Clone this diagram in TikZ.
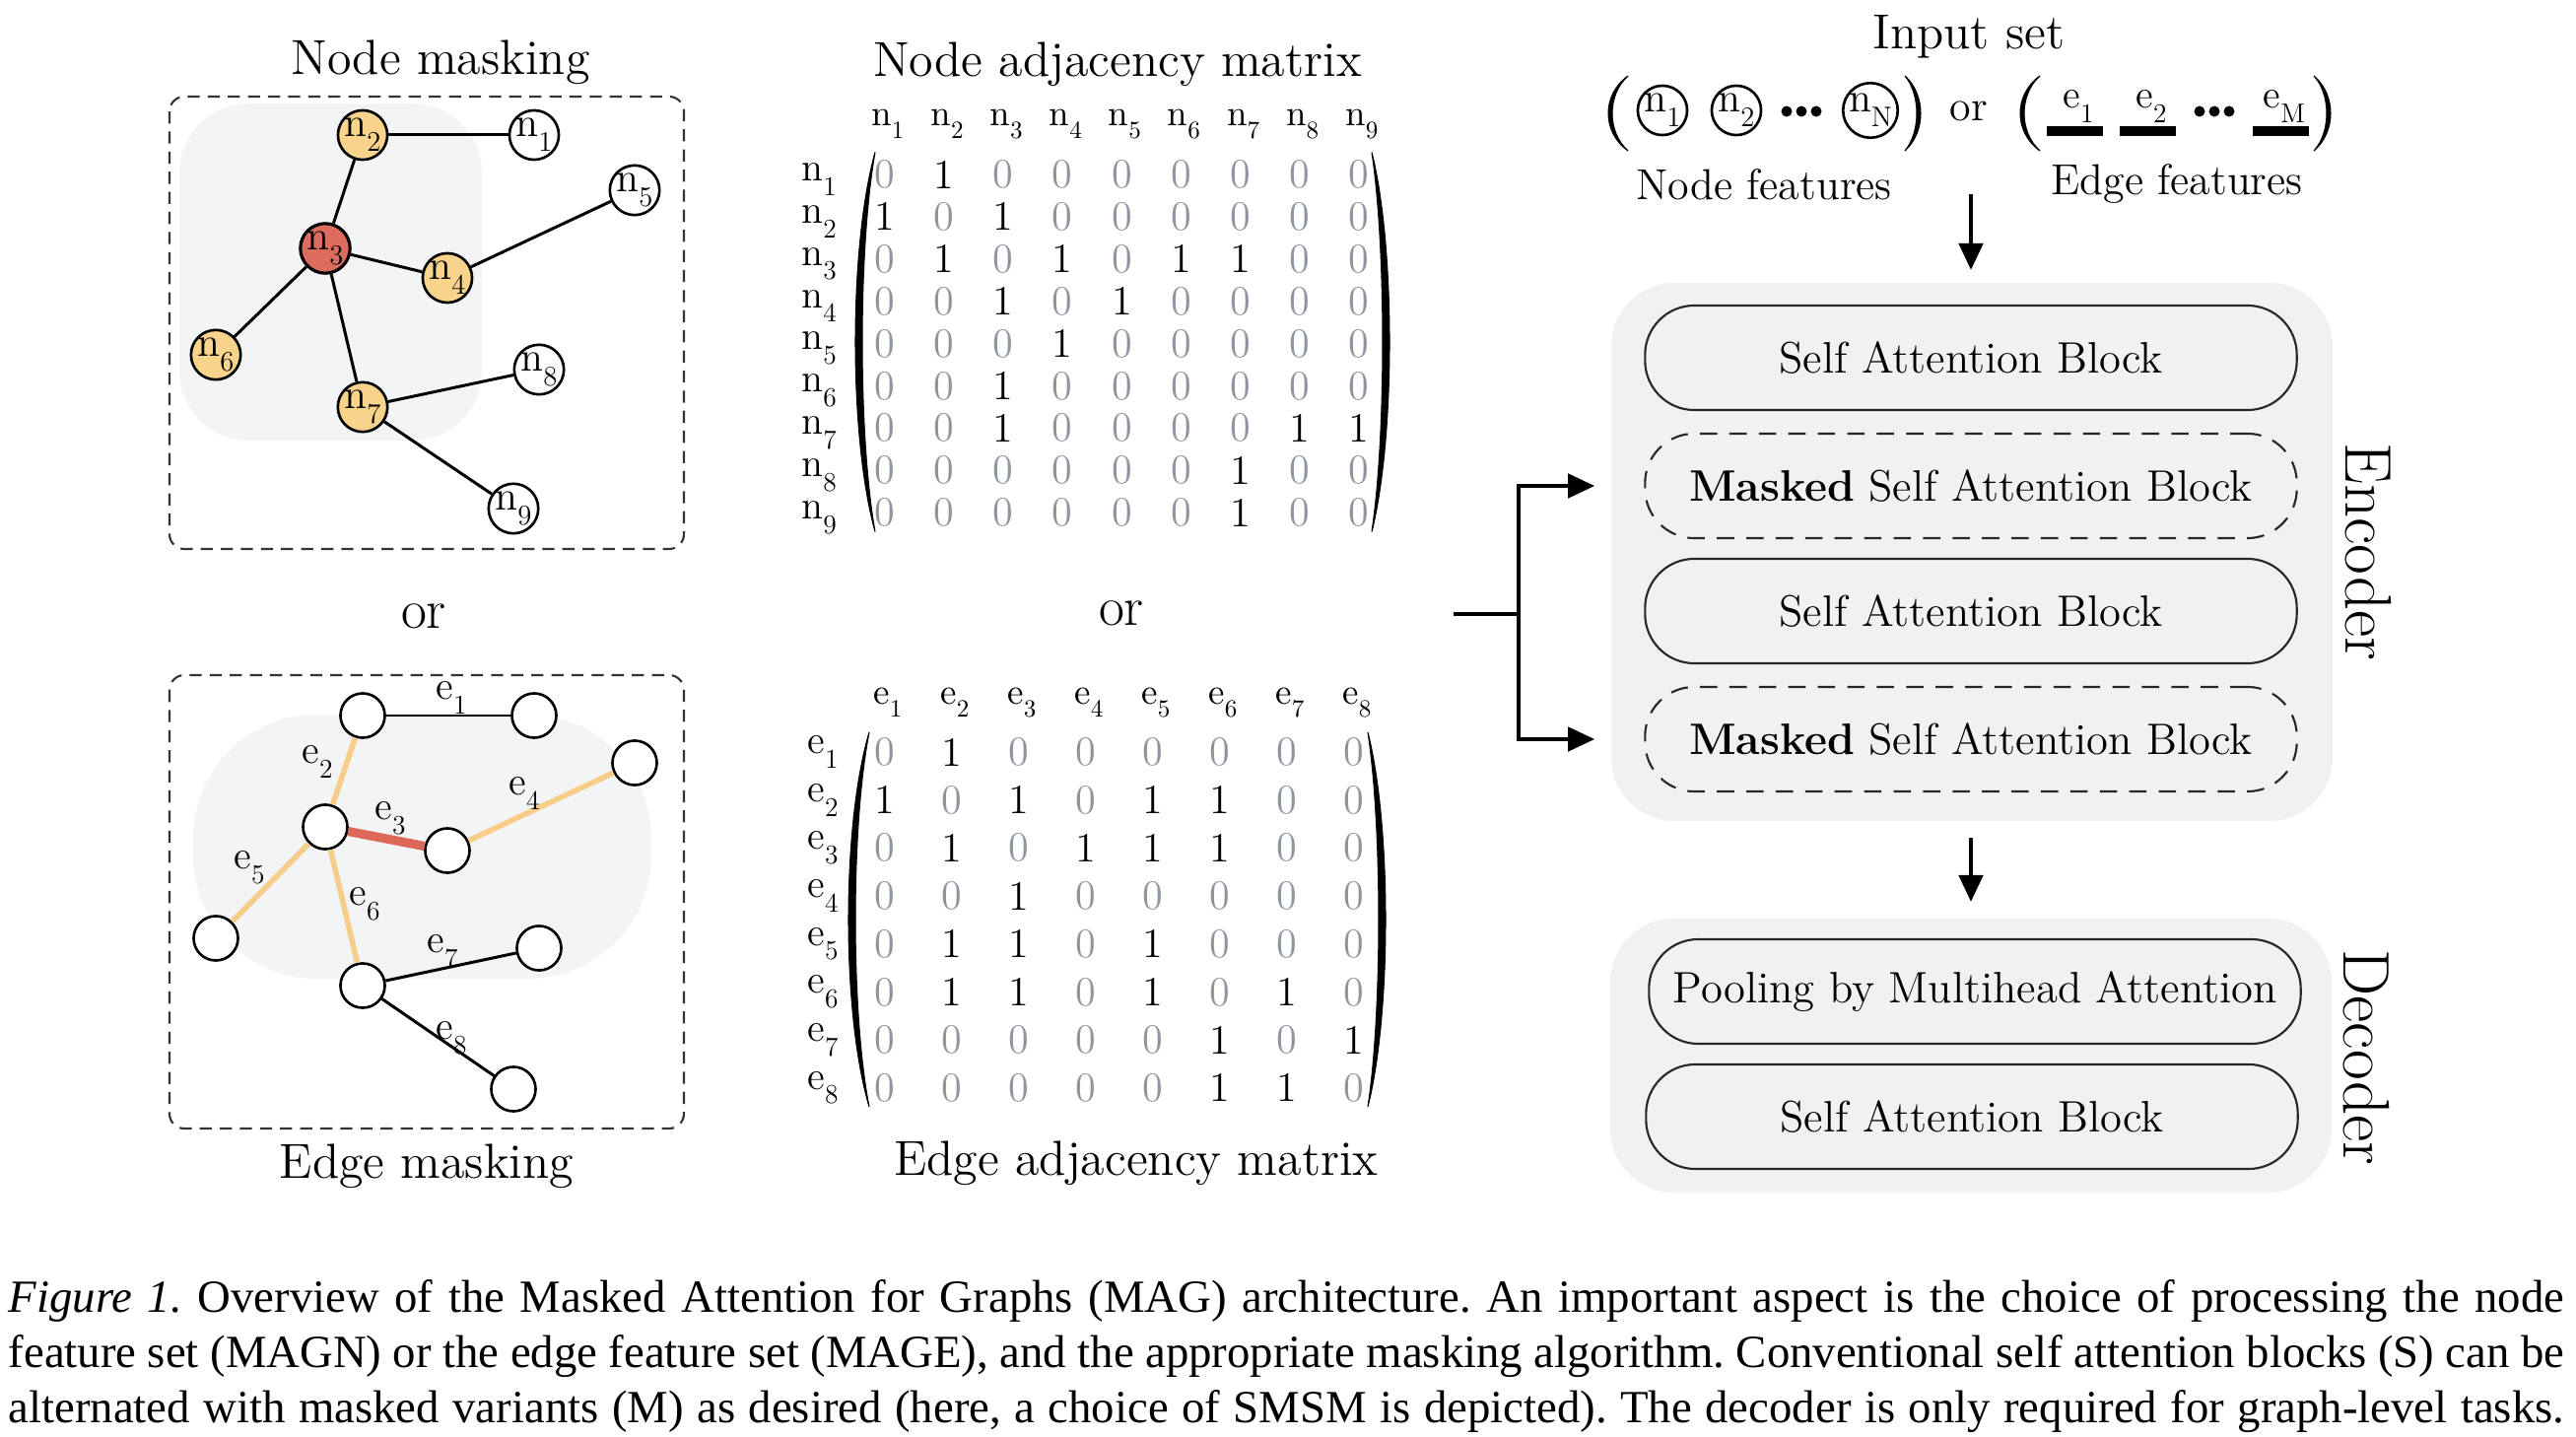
\documentclass[tikz,border=0pt]{standalone}
\usepackage{fontspec}
\usepackage{graphicx}
\newfontfamily\capfont{Liberation Serif}
\usetikzlibrary{arrows.meta}
\definecolor{bggray}{RGB}{243,244,246}
\definecolor{encgray}{RGB}{240,241,243}
\definecolor{nyellow}{RGB}{247,211,140}
\definecolor{nred}{RGB}{222,108,94}
\definecolor{eorange}{RGB}{246,206,138}
\definecolor{ered}{RGB}{221,104,90}
\definecolor{zgray}{RGB}{142,148,160}
\newcommand\myfs[1]{\fontsize{#1}{#1}\selectfont}
\newcommand\lab[2]{#1\raisebox{-0.36em}{\scalebox{0.68}{#2}}}
\tikzset{
  title/.style={font=\myfs{14.2}, inner sep=0pt},
  orlab/.style={font=\myfs{16}, inner sep=0pt},
  gnode/.style={circle, draw=black, line width=0.75pt, fill=white, minimum size=0.45cm, inner sep=0pt, font=\myfs{12}},
  ynode/.style={gnode, fill=nyellow},
  rnode/.style={gnode, fill=nred, line width=0.9pt},
  gedge/.style={line width=0.85pt},
  oedge/.style={line width=1.6pt, draw=eorange},
  redge/.style={line width=2.6pt, draw=ered},
  elabel/.style={font=\myfs{11.5}, inner sep=0pt},
  panel/.style={draw=black!80, dash pattern=on 3.5pt off 2.3pt, line width=0.6pt, rounded corners=0.15cm},
  mv0/.style={text=zgray, font=\myfs{12}, inner sep=0pt},
  mv1/.style={text=black, font=\myfs{12}, inner sep=0pt},
  hlab/.style={font=\myfs{10.5}, inner sep=0pt},
  rlab/.style={font=\myfs{11.5}, inner sep=0pt},
  block/.style={draw=black!85, line width=0.6pt, rounded corners=0.5cm, minimum width=6.61cm, minimum height=1.06cm, font=\myfs{12.7}, inner sep=0pt},
  mblock/.style={block, dash pattern=on 5pt off 3.5pt},
  bgbox/.style={fill=encgray, draw=none, rounded corners=0.65cm, minimum width=7.32cm, inner sep=0pt},
  arr/.style={line width=1.3pt, -{Triangle[length=0.27cm,width=0.24cm]}},
  ebar/.style={fill=black, minimum width=0.57cm, minimum height=0.1cm, inner sep=0pt},
  capline/.style={font=\capfont\myfs{13.3}\frenchspacing, inner sep=0pt, anchor=base west},
  pics/lpar/.style n args={3}{code={
    \filldraw[line width=0.3pt] (0,{-#1/2}) .. controls ({-1.333*#2},{-#1/4}) and ({-1.333*#2},{#1/4}) .. (0,{#1/2})
      .. controls ({-1.333*(#2-#3)},{#1/4}) and ({-1.333*(#2-#3)},{-#1/4}) .. cycle;
  }}
}
\begin{document}
\begin{tikzpicture}[x=0.01cm,y=-0.01cm]
\useasboundingbox (0,0) rectangle (2614,1458);

% ---------- Node masking ----------
\node[title] (tnm) at (447,63) {Node masking};
\fill[bggray, rounded corners=0.7cm] (182,105) rectangle (489,447);
\draw[panel] (172,98) rectangle (694,557);
\node[ynode] (n2) at (368,137) {\lab{n}{2}};
\node[gnode] (n1) at (542,137) {\lab{n}{1}};
\node[gnode] (n5) at (644,193) {\lab{n}{5}};
\node[rnode] (n3) at (330,252) {\lab{n}{3}};
\node[ynode] (n4) at (454,282) {\lab{n}{4}};
\node[ynode] (n6) at (219,360) {\lab{n}{6}};
\node[ynode] (n7) at (368,413) {\lab{n}{7}};
\node[gnode] (n8) at (547,375) {\lab{n}{8}};
\node[gnode] (n9) at (521,516) {\lab{n}{9}};
\draw[gedge] (n2) -- (n1);
\draw[gedge] (n2) -- (n3);
\draw[gedge] (n3) -- (n4);
\draw[gedge] (n4) -- (n5);
\draw[gedge] (n3) -- (n6);
\draw[gedge] (n3) -- (n7);
\draw[gedge] (n7) -- (n8);
\draw[gedge] (n7) -- (n9);

\node[orlab] (or1) at (430,625) {or};

% ---------- Edge masking ----------
\fill[bggray, rounded corners=1.25cm] (196,725) rectangle (661,993);
\draw[panel] (172,685) rectangle (694,1145);
\node[gnode] (m2) at (368,726) {};
\node[gnode] (m1) at (542,726) {};
\node[gnode] (m5) at (644,774) {};
\node[gnode] (m3) at (330,839) {};
\node[gnode] (m4) at (454,863) {};
\node[gnode] (m6) at (219,952) {};
\node[gnode] (m7) at (368,1000) {};
\node[gnode] (m8) at (547,962) {};
\node[gnode] (m9) at (521,1105) {};
\draw[gedge] (m2) -- (m1);
\draw[oedge] (m2) -- (m3);
\draw[redge] (m3) -- (m4);
\draw[oedge] (m4) -- (m5);
\draw[oedge] (m3) -- (m6);
\draw[oedge] (m3) -- (m7);
\draw[gedge] (m7) -- (m8);
\draw[gedge] (m7) -- (m9);
\node[elabel] (le1) at (458,708) {\lab{e}{1}};
\node[elabel] (le2) at (322,773) {\lab{e}{2}};
\node[elabel] (le3) at (396,830) {\lab{e}{3}};
\node[elabel] (le4) at (532,805) {\lab{e}{4}};
\node[elabel] (le5) at (253,880) {\lab{e}{5}};
\node[elabel] (le6) at (370,917) {\lab{e}{6}};
\node[elabel] (le7) at (449,965) {\lab{e}{7}};
\node[elabel] (le8) at (458,1053) {\lab{e}{8}};
\node[title] (tem) at (433,1183) {Edge masking};

% ---------- Node adjacency matrix ----------
\node[title] (tna) at (1134,65) {Node adjacency matrix};
\foreach \row [count=\i] in {{0,1,0,0,0,0,0,0,0},{1,0,1,0,0,0,0,0,0},{0,1,0,1,0,1,1,0,0},{0,0,1,0,1,0,0,0,0},{0,0,0,1,0,0,0,0,0},{0,0,1,0,0,0,0,0,0},{0,0,1,0,0,0,0,1,1},{0,0,0,0,0,0,1,0,0},{0,0,0,0,0,0,1,0,0}}{
  \node[rlab] (nr\i) at (831,{182+42.9*(\i-1)}) {\lab{n}{\i}};
  \node[hlab] (nc\i) at ({901+60.1*(\i-1)},126) {\lab{n}{\i}};
  \foreach \v [count=\j] in \row {
    \node[mv\v] (na-\i-\j) at ({898+60.1*(\j-1)},{177+42.9*(\i-1)}) {\v};
  }
}
\pic at (888,347) {lpar={385}{20}{7}};
\pic[xscale=-1] at (1392,347) {lpar={385}{18}{7}};

\node[orlab] (or2) at (1138,622) {or};

% ---------- Edge adjacency matrix ----------
\foreach \row [count=\i] in {{0,1,0,0,0,0,0,0},{1,0,1,0,1,1,0,0},{0,1,0,1,1,1,0,0},{0,0,1,0,0,0,0,0},{0,1,1,0,1,0,0,0},{0,1,1,0,1,0,1,0},{0,0,0,0,0,1,0,1},{0,0,0,0,0,1,1,0}}{
  \node[rlab] (er\i) at (835,{763+48.7*(\i-1)}) {\lab{e}{\i}};
  \node[hlab] (ec\i) at ({901+68*(\i-1)},713) {\lab{e}{\i}};
  \foreach \v [count=\j] in \row {
    \node[mv\v] (ea-\i-\j) at ({898+68*(\j-1)},{763+48.7*(\i-1)}) {\v};
  }
}
\pic at (882,933) {lpar={380}{21}{7}};
\pic[xscale=-1] at (1388,933) {lpar={380}{18}{7}};
\node[title] (tea) at (1153,1180) {Edge adjacency matrix};

% ---------- Input set ----------
\node[title] (tin) at (1998,37) {Input set};
\pic at (1652,115) {lpar={76}{20}{4}};
\pic[xscale=-1] at (1933,115) {lpar={76}{16}{4}};
\node[gnode, minimum size=0.48cm] (i1) at (1687,112) {\lab{n}{1}};
\node[gnode, minimum size=0.48cm] (i2) at (1762,112) {\lab{n}{2}};
\node[gnode, minimum size=0.48cm] (iN) at (1898,112) {\lab{n}{N}};
\fill (1813,113) circle (5.5) (1828,113) circle (5.5) (1843,113) circle (5.5);
\node[font=\myfs{12.5}, inner sep=0pt] (ior) at (1998,113) {or};
\pic at (2070,115) {lpar={76}{20}{4}};
\pic[xscale=-1] at (2348,115) {lpar={76}{17}{4}};
\node[ebar] (eb1) at (2105,133) {};
\node[ebar] (eb2) at (2179,133) {};
\node[ebar] (ebM) at (2314,133) {};
\node[elabel, anchor=base] (ie1) at (2109,110) {\lab{e}{1}};
\node[elabel, anchor=base] (ie2) at (2183,110) {\lab{e}{2}};
\node[elabel, anchor=base] (ieM) at (2318,110) {\lab{e}{M}};
\fill (2232,113) circle (5.5) (2247,113) circle (5.5) (2262,113) circle (5.5);
\node[font=\myfs{12.5}, inner sep=0pt] (nft) at (1790,187) {Node features};
\node[font=\myfs{12.5}, inner sep=0pt] (eft) at (2209,187) {Edge features};
\coordinate (ia0) at (2000,197);
\coordinate (ia1) at (2000,274);
\draw[arr] (ia0) -- (ia1);

% ---------- Encoder ----------
\node[bgbox, minimum height=5.46cm] (enc) at (2001,560) {};
\node[block] (b1) at (2000,363) {Self Attention Block};
\node[mblock] (b2) at (2000,493) {\textbf{Masked} Self Attention Block};
\node[block] (b3) at (2000,620) {Self Attention Block};
\node[mblock] (b4) at (2000,750) {\textbf{Masked} Self Attention Block};
\node[font=\myfs{19}, rotate=-90, inner sep=0pt] (encl) at (2403,560) {Encoder};

\coordinate (brS) at (1475,623);
\coordinate (brJ) at (1541,623);
\draw[line width=1.3pt] (brS) -- (brJ);
\draw[arr] (brJ) |- ([xshift=-0.5cm]b2.west);
\draw[arr] (brJ) |- ([xshift=-0.5cm]b4.west);

\coordinate (ea0) at (2000,850);
\coordinate (ea1) at (2000,915);
\draw[arr] (ea0) -- (ea1);

% ---------- Decoder ----------
\node[bgbox, minimum height=2.78cm] (dec) at (2000,1071) {};
\node[block] (d1) at (2004,1006) {Pooling by Multihead Attention};
\node[block] (d2) at (2001,1133) {Self Attention Block};
\node[font=\myfs{19}, rotate=-90, inner sep=0pt] (decl) at (2401,1073) {Decoder};

% ---------- Caption ----------
\node[capline] (c1) at (8,1331) {\makebox[25.92cm][s]{\textit{Figure 1.} Overview of the Masked Attention for Graphs (MAG) architecture. An important aspect is the choice of processing the node}};
\node[capline] (c2) at (8,1387) {\makebox[25.92cm][s]{feature set (MAGN) or the edge feature set (MAGE), and the appropriate masking algorithm. Conventional self attention blocks (S) can be}};
\node[capline] (c3) at (8,1443) {\makebox[25.92cm][s]{alternated with masked variants (M) as desired (here, a choice of SMSM is depicted). The decoder is only required for graph-level tasks.}};
\end{tikzpicture}
\end{document}
